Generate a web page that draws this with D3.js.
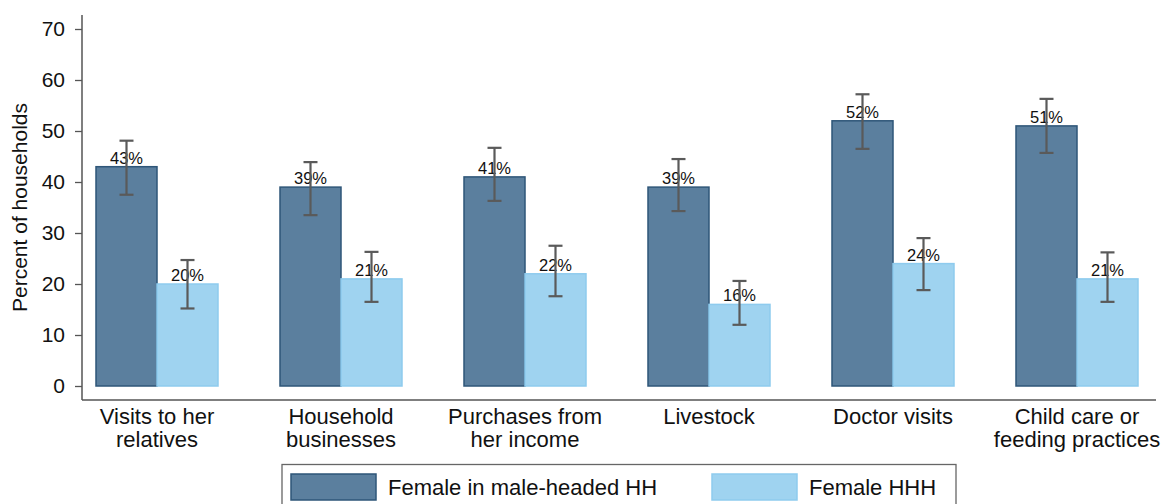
<html>
<head>
<meta charset="utf-8">
<title>Decision making</title>
<script src="https://cdnjs.cloudflare.com/ajax/libs/d3/7.8.5/d3.min.js"></script>
<style>
  body { margin: 0; background: #fff; }
  text { font-family: "Liberation Sans", Arial, Helvetica, sans-serif; fill: #111; }
</style>
</head>
<body>
<div id="chart"></div>
<script>
  // categories (two-line labels)
  const categories = [
    ["Visits to her", "relatives"],
    ["Household", "businesses"],
    ["Purchases from", "her income"],
    ["Livestock"],
    ["Doctor visits"],
    ["Child care or", "feeding practices"]
  ];
  const seriesNames = ["Female in male-headed HH", "Female HHH"];

  const maleHH = [43, 39, 41, 39, 52, 51];
  const maleLo = [37.5, 33.5, 36.3, 34.3, 46.5, 45.7];
  const maleHi = [48.1, 43.9, 46.7, 44.5, 57.2, 56.3];

  const femaleHHH = [20, 21, 22, 16, 24, 21];
  const femaleLo = [15.2, 16.5, 17.6, 12.0, 18.8, 16.5];
  const femaleHi = [24.7, 26.3, 27.5, 20.6, 29.0, 26.2];

  const yTicks = [0, 10, 20, 30, 40, 50, 60, 70];

  const colors = ["#5b7f9e", "#9fd3f0"];
  const strokes = ["#2e5678", "#8ecbee"];

  const W = 1164, H = 504;
  const svg = d3.select('#chart').append('svg')
    .attr('width', W).attr('height', H);

  const y = d3.scaleLinear().domain([0, 70]).range([386, 29]);
  const x = d3.scalePoint().domain(d3.range(categories.length)).range([157, 1077]);
  const sub = d3.scaleBand().domain([0, 1]).range([-61, 61]);

  // axes
  svg.append('line').attr('x1', 82).attr('x2', 82).attr('y1', 15).attr('y2', 400)
    .attr('stroke', '#555').attr('stroke-width', 1.5);
  svg.append('line').attr('x1', 82).attr('x2', 1156).attr('y1', 400).attr('y2', 400)
    .attr('stroke', '#555').attr('stroke-width', 1.5);

  const yAxis = svg.append('g').attr('transform', 'translate(82,0)')
    .call(d3.axisLeft(y).tickValues(yTicks).tickSize(7).tickPadding(10));
  yAxis.select('.domain').remove();
  yAxis.selectAll('line').attr('stroke', '#555').attr('stroke-width', 1.3);
  yAxis.selectAll('text').attr('font-size', 21).attr('fill', '#111')
    .style('font-family', '"Liberation Sans", Arial, sans-serif');

  svg.append('text')
    .attr('transform', 'translate(27,' + y(35) + ') rotate(-90)')
    .attr('text-anchor', 'middle')
    .attr('font-size', 21)
    .text('Percent of households');

  // rows: one per bar
  const rows = [];
  categories.forEach((c, i) => {
    rows.push({ i, s: 0, v: maleHH[i], lo: maleLo[i], hi: maleHi[i] });
    rows.push({ i, s: 1, v: femaleHHH[i], lo: femaleLo[i], hi: femaleHi[i] });
  });

  svg.append('g').selectAll('rect')
    .data(rows)
    .join('rect')
    .attr('x', d => x(d.i) + sub(d.s))
    .attr('width', sub.bandwidth())
    .attr('y', d => y(d.v))
    .attr('height', d => y(0) - y(d.v))
    .attr('fill', d => colors[d.s])
    .attr('stroke', d => strokes[d.s])
    .attr('stroke-width', 1.5);

  // value labels
  svg.append('g').selectAll('text')
    .data(rows)
    .join('text')
    .attr('x', d => x(d.i) + sub(d.s) + sub.bandwidth() / 2)
    .attr('y', d => y(d.v) - 3)
    .attr('text-anchor', 'middle')
    .attr('font-size', 16.5)
    .text(d => d.v + '%');

  // error bars
  const eb = svg.append('g').attr('stroke', '#5a5a5a').attr('stroke-width', 2.2).attr('fill', 'none');
  rows.forEach(d => {
    const cx = x(d.i) + sub(d.s) + sub.bandwidth() / 2;
    eb.append('line').attr('x1', cx).attr('x2', cx).attr('y1', y(d.lo)).attr('y2', y(d.hi));
    eb.append('line').attr('x1', cx - 7).attr('x2', cx + 7).attr('y1', y(d.lo)).attr('y2', y(d.lo));
    eb.append('line').attr('x1', cx - 7).attr('x2', cx + 7).attr('y1', y(d.hi)).attr('y2', y(d.hi));
  });

  // category labels
  const xl = svg.append('g').selectAll('text')
    .data(categories)
    .join('text')
    .attr('text-anchor', 'middle')
    .attr('font-size', 22)
    .attr('x', (d, i) => x(i))
    .attr('y', 424);
  xl.selectAll('tspan')
    .data(d => d)
    .join('tspan')
    .attr('x', function () { return d3.select(this.parentNode).attr('x'); })
    .attr('dy', (d, j) => j === 0 ? 0 : 23)
    .text(d => d);

  // legend
  const lg = svg.append('g');
  lg.append('rect').attr('x', 282).attr('y', 464.5).attr('width', 674).attr('height', 50)
    .attr('fill', '#fff').attr('stroke', '#666').attr('stroke-width', 1.3);
  const legX = [291, 712];
  seriesNames.forEach((name, s) => {
    lg.append('rect').attr('x', legX[s]).attr('y', 474).attr('width', 85).attr('height', 26)
      .attr('fill', colors[s]).attr('stroke', strokes[s]).attr('stroke-width', 1.5);
    lg.append('text').attr('x', legX[s] + 97).attr('y', 495).attr('font-size', 22).text(name);
  });
</script>
</body>
</html>
